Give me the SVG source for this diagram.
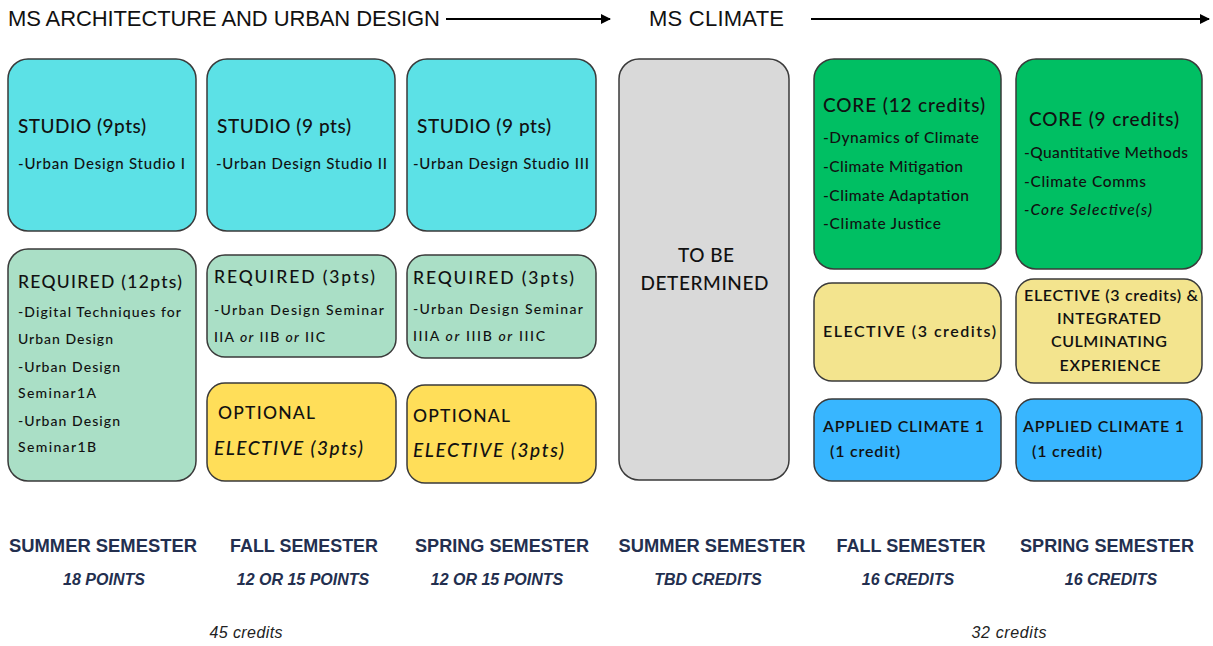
<svg xmlns="http://www.w3.org/2000/svg" width="1213" height="646" viewBox="0 0 1213 646">
<defs>
<marker id="ah" viewBox="0 0 10 10" refX="9" refY="5" markerWidth="5" markerHeight="5" orient="auto" markerUnits="strokeWidth">
<path d="M0,0 L10,5 L0,10 Z" fill="#000"/>
</marker>
<style>
.box{stroke:#3a3a3a;stroke-width:1.5}
.cyan{fill:#5CE1E6}.green{fill:#00BF63}.mint{fill:#AADFC6}.yel{fill:#FFDE59}.pale{fill:#F3E48E}.blue{fill:#38B6FF}.grey{fill:#D9D9D9}
text{font-family:Lato,"Liberation Sans",sans-serif;fill:#111}
.hd{font-size:19px;font-weight:500}
.hr{font-size:17.5px;font-weight:500}
.it{font-size:15px;font-weight:500}
.ir{font-size:14px;font-weight:500}
.ic{font-size:15.5px;font-weight:500}
.sm{font-size:16px;font-weight:600}
.title{font-family:"Liberation Sans",Arial,sans-serif;font-size:22px;fill:#111}
.sem{font-family:"Liberation Sans",Arial,sans-serif;font-size:19px;font-weight:bold;fill:#232F4F;text-anchor:middle}
.pts{font-family:"Liberation Sans",Arial,sans-serif;font-size:16px;font-weight:bold;font-style:italic;fill:#232F4F;text-anchor:middle}
.cr{font-family:"Liberation Sans",Arial,sans-serif;font-size:16px;font-style:italic;fill:#222;text-anchor:middle}
.c{text-anchor:middle}
</style>
</defs>
<rect width="1213" height="646" fill="#fff"/>

<g id="titles">
<text class="title" x="8" y="26" textLength="432">MS ARCHITECTURE AND URBAN DESIGN</text>
<text class="title" x="649" y="26" textLength="135">MS CLIMATE</text>
</g>
<g id="connectors" stroke="#000" stroke-width="2" fill="none">
<line x1="446" y1="19" x2="610" y2="19" marker-end="url(#ah)"/>
<line x1="811" y1="19" x2="1209" y2="19" marker-end="url(#ah)"/>
</g>

<g id="studio1">
<rect class="box cyan" x="8" y="59" width="188" height="172" rx="20"/>
<text class="hd" x="18" y="133" textLength="128">STUDIO (9pts)</text>
<text class="it" x="18" y="169" textLength="167">-Urban Design Studio I</text>
</g>
<g id="studio2">
<rect class="box cyan" x="207" y="59" width="188" height="172" rx="20"/>
<text class="hd" x="217" y="133" textLength="134">STUDIO (9 pts)</text>
<text class="it" x="216" y="169" textLength="171">-Urban Design Studio II</text>
</g>
<g id="studio3">
<rect class="box cyan" x="407" y="59" width="189" height="172" rx="20"/>
<text class="hd" x="417" y="133" textLength="134">STUDIO (9 pts)</text>
<text class="it" x="413" y="169" textLength="176">-Urban Design Studio III</text>
</g>

<g id="required1">
<rect class="box mint" x="8" y="249" width="188" height="232" rx="20"/>
<text class="hr" x="18" y="288" textLength="164">REQUIRED (12pts)</text>
<text class="ir" x="18" y="317" textLength="163">-Digital Techniques for</text>
<text class="ir" x="18" y="344" textLength="95">Urban Design</text>
<text class="ir" x="18" y="372" textLength="102">-Urban Design</text>
<text class="ir" x="18" y="398" textLength="78">Seminar1A</text>
<text class="ir" x="18" y="426" textLength="102">-Urban Design</text>
<text class="ir" x="18" y="452" textLength="78">Seminar1B</text>
</g>
<g id="required2">
<rect class="box mint" x="207" y="255" width="189" height="102" rx="18"/>
<text class="hr" x="214" y="283" textLength="161">REQUIRED (3pts)</text>
<text class="ir" x="214" y="315" textLength="170">-Urban Design Seminar</text>
<text class="ir" x="214" y="342" textLength="111">IIA <tspan font-style="italic">or</tspan> IIB <tspan font-style="italic">or</tspan> IIC</text>
</g>
<g id="optional2">
<rect class="box yel" x="207" y="383" width="189" height="98" rx="18"/>
<text class="hr" x="218" y="419" textLength="97">OPTIONAL</text>
<text class="hd" x="214" y="455" font-style="italic" textLength="149">ELECTIVE (3pts)</text>
</g>
<g id="required3">
<rect class="box mint" x="407" y="255" width="189" height="103" rx="18"/>
<text class="hr" x="413" y="284" textLength="161">REQUIRED (3pts)</text>
<text class="ir" x="413" y="314" textLength="170">-Urban Design Seminar</text>
<text class="ir" x="413" y="341" textLength="132">IIIA <tspan font-style="italic">or</tspan> IIIB <tspan font-style="italic">or</tspan> IIIC</text>
</g>
<g id="optional3">
<rect class="box yel" x="407" y="385" width="189" height="98" rx="18"/>
<text class="hr" x="413" y="422" textLength="97">OPTIONAL</text>
<text class="hd" x="413" y="457" font-style="italic" textLength="151">ELECTIVE (3pts)</text>
</g>

<g id="tbd">
<rect class="box grey" x="619" y="59" width="170" height="421" rx="20"/>
<text class="hd c" x="706" y="262" textLength="56">TO BE</text>
<text class="hd c" x="704.5" y="290" textLength="128">DETERMINED</text>
</g>

<g id="core1">
<rect class="box green" x="814" y="59" width="187" height="210" rx="20"/>
<text class="hd" x="823" y="112" textLength="162">CORE (12 credits)</text>
<text class="ic" x="823" y="143" textLength="156">-Dynamics of Climate</text>
<text class="ic" x="823" y="172" textLength="140">-Climate Mitigation</text>
<text class="ic" x="823" y="201" textLength="146">-Climate Adaptation</text>
<text class="ic" x="823" y="229" textLength="118">-Climate Justice</text>
</g>
<g id="core2">
<rect class="box green" x="1016" y="59" width="186" height="210" rx="20"/>
<text class="hd" x="1029" y="126" textLength="150">CORE (9 credits)</text>
<text class="ic" x="1024" y="158" textLength="164">-Quantitative Methods</text>
<text class="ic" x="1024" y="187" textLength="122">-Climate Comms</text>
<text class="ic" x="1024" y="215" font-style="italic" textLength="128">-Core Selective(s)</text>
</g>

<g id="elective1">
<rect class="box pale" x="814" y="283" width="187" height="98" rx="18"/>
<text class="sm" x="823" y="337" textLength="173">ELECTIVE (3 credits)</text>
</g>
<g id="elective2">
<rect class="box pale" x="1016" y="279" width="186" height="104" rx="18"/>
<text class="sm c" x="1111" y="301" textLength="174">ELECTIVE (3 credits) &amp;</text>
<text class="sm c" x="1109" y="324" textLength="104">INTEGRATED</text>
<text class="sm c" x="1109" y="347" textLength="116">CULMINATING</text>
<text class="sm c" x="1110" y="371" textLength="101">EXPERIENCE</text>
</g>

<g id="applied1">
<rect class="box blue" x="814" y="399" width="187" height="82" rx="18"/>
<text class="sm" x="823" y="432" textLength="161">APPLIED CLIMATE 1</text>
<text class="sm" x="830" y="457" textLength="70">(1 credit)</text>
</g>
<g id="applied2">
<rect class="box blue" x="1016" y="399" width="186" height="82" rx="18"/>
<text class="sm" x="1023" y="432" textLength="161">APPLIED CLIMATE 1</text>
<text class="sm" x="1032" y="457" textLength="70">(1 credit)</text>
</g>

<g id="labels">
<text class="sem" x="103" y="552" textLength="188" lengthAdjust="spacingAndGlyphs">SUMMER SEMESTER</text>
<text class="sem" x="304" y="552" textLength="148" lengthAdjust="spacingAndGlyphs">FALL SEMESTER</text>
<text class="sem" x="502" y="552" textLength="174" lengthAdjust="spacingAndGlyphs">SPRING SEMESTER</text>
<text class="sem" x="712" y="552" textLength="187" lengthAdjust="spacingAndGlyphs">SUMMER SEMESTER</text>
<text class="sem" x="911" y="552" textLength="149" lengthAdjust="spacingAndGlyphs">FALL SEMESTER</text>
<text class="sem" x="1107" y="552" textLength="174" lengthAdjust="spacingAndGlyphs">SPRING SEMESTER</text>
<text class="pts" x="104" y="585">18 POINTS</text>
<text class="pts" x="303" y="585">12 OR 15 POINTS</text>
<text class="pts" x="497" y="585">12 OR 15 POINTS</text>
<text class="pts" x="708" y="585">TBD CREDITS</text>
<text class="pts" x="908" y="585">16 CREDITS</text>
<text class="pts" x="1111" y="585">16 CREDITS</text>
<text class="cr" x="246" y="638" textLength="73">45 credits</text>
<text class="cr" x="1009" y="638" textLength="75">32 credits</text>
</g>
</svg>
